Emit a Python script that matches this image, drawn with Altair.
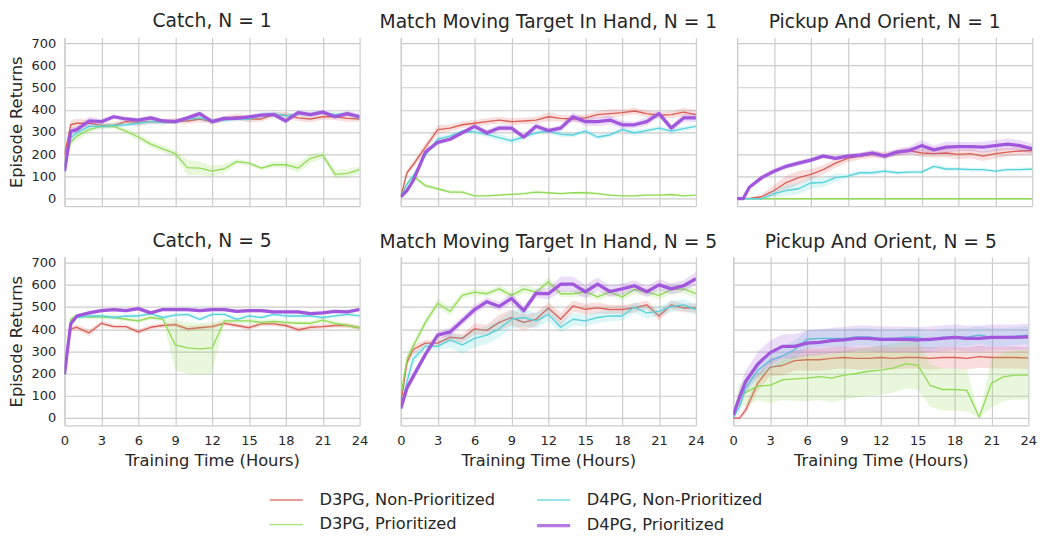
import altair as alt
import pandas as pd

HOURS = [0, 0.5, 1, 2, 3, 4, 5, 6, 7, 8, 9, 10, 11, 12, 13, 14, 15, 16, 17, 18, 19, 20, 21, 22, 23, 24]
SERIES = ["D3PG, Non-Prioritized", "D3PG, Prioritized", "D4PG, Non-Prioritized", "D4PG, Prioritized"]
COLORS = ["#db5f57", "#91db57", "#57d3db", "#a157db"]
WIDTHS = [1.4, 1.4, 1.4, 3.4]
TITLES = ["Catch, N = 1", "Match Moving Target In Hand, N = 1", "Pickup And Orient, N = 1",
          "Catch, N = 5", "Match Moving Target In Hand, N = 5", "Pickup And Orient, N = 5"]
X_TICKS = [0, 3, 6, 9, 12, 15, 18, 21, 24]
Y_TICKS = [0, 100, 200, 300, 400, 500, 600, 700]

# ---- Catch, N = 1 ----
catch1_d3np = [196, 333, 340, 340, 330, 330, 347, 344, 347, 347, 350, 350, 359, 347, 359, 369, 359, 359, 379, 376, 364, 359, 369, 369, 362, 359]
catch1_d3p = [146, 254, 282, 311, 326, 326, 304, 278, 246, 225, 203, 140, 138, 124, 135, 167, 160, 138, 153, 153, 138, 182, 196, 110, 114, 131]
catch1_d4np = [146, 275, 297, 326, 326, 330, 333, 340, 347, 344, 347, 359, 364, 350, 354, 359, 359, 376, 383, 373, 383, 379, 388, 379, 383, 364]
catch1_d4p = [124, 304, 311, 350, 347, 369, 359, 354, 364, 350, 347, 364, 383, 347, 362, 362, 369, 376, 379, 350, 388, 379, 390, 369, 383, 369]
catch1_d3np_band = [10, 20, 20, 15, 12, 12, 15, 15, 12, 12, 12, 12, 15, 12, 12, 15, 15, 12, 12, 15, 15, 15, 12, 15, 15, 12]
catch1_d3p_band = [10, 20, 20, 15, 12, 10, 12, 15, 15, 15, 15, 35, 30, 25, 20, 12, 10, 10, 12, 15, 20, 22, 15, 20, 20, 15]
catch1_d4np_band = [10, 20, 15, 12, 10, 10, 10, 10, 10, 10, 10, 10, 12, 12, 10, 10, 10, 12, 10, 10, 10, 12, 10, 10, 10, 10]
catch1_d4p_band = [10, 15, 15, 20, 12, 10, 10, 10, 12, 10, 10, 10, 12, 10, 10, 10, 10, 12, 10, 12, 10, 10, 10, 10, 12, 15]

# ---- Match Moving Target In Hand, N = 1 ----
match1_d3np = [9, 117, 153, 232, 311, 318, 333, 340, 347, 354, 347, 350, 354, 369, 362, 359, 364, 379, 383, 388, 395, 383, 376, 379, 390, 379]
match1_d3p = [9, 66, 102, 59, 45, 30, 30, 13, 13, 16, 20, 23, 30, 27, 23, 27, 27, 23, 16, 13, 13, 16, 16, 19, 13, 16]
match1_d4np = [9, 66, 102, 196, 268, 282, 304, 301, 290, 275, 261, 278, 297, 304, 290, 287, 304, 278, 287, 311, 297, 307, 318, 304, 316, 326]
match1_d4p = [9, 37, 81, 210, 254, 268, 297, 326, 297, 318, 318, 278, 326, 307, 318, 369, 347, 347, 354, 333, 333, 347, 383, 318, 364, 364]
match1_d3np_band = [5, 15, 15, 20, 20, 15, 15, 15, 15, 15, 15, 15, 15, 20, 15, 15, 15, 15, 20, 15, 15, 15, 15, 15, 20, 20]
match1_d3p_band = [5, 10, 10, 10, 8, 8, 8, 5, 5, 5, 5, 5, 8, 5, 5, 5, 8, 5, 5, 5, 5, 5, 5, 5, 5, 5]
match1_d4np_band = [5, 10, 10, 12, 12, 10, 10, 10, 12, 15, 15, 12, 10, 10, 12, 10, 10, 12, 10, 10, 15, 10, 10, 12, 10, 10]
match1_d4p_band = [5, 10, 10, 12, 12, 10, 10, 12, 15, 15, 15, 12, 15, 12, 15, 20, 18, 20, 20, 18, 15, 20, 15, 15, 20, 20]

# ---- Pickup And Orient, N = 1 ----
pick1_d3np = [1, 1, 1, 9, 37, 73, 95, 110, 131, 160, 182, 192, 200, 196, 206, 217, 206, 203, 206, 200, 203, 192, 203, 210, 215, 217]
pick1_d3p = [0, 0, 0, 0, 0, 0, 0, 0, 0, 0, 0, 0, 0, 0, 0, 0, 0, 0, 0, 0, 0, 0, 0, 0, 0, 0]
pick1_d4np = [0, 0, 0, 0, 23, 37, 45, 71, 73, 95, 102, 117, 117, 124, 117, 120, 120, 146, 134, 134, 131, 131, 124, 131, 131, 134]
pick1_d4p = [1, 1, 52, 95, 124, 146, 160, 174, 192, 182, 192, 196, 206, 192, 210, 217, 239, 220, 232, 235, 235, 232, 239, 246, 239, 225]
pick1_d3np_band = [0, 0, 0, 10, 25, 30, 30, 25, 20, 20, 18, 15, 15, 15, 15, 15, 18, 18, 20, 22, 22, 22, 22, 20, 20, 18]
pick1_d3p_band = [0, 0, 0, 0, 0, 0, 0, 0, 0, 0, 0, 0, 0, 0, 0, 0, 0, 0, 0, 0, 0, 0, 0, 0, 0, 0]
pick1_d4np_band = [0, 0, 0, 5, 15, 25, 25, 25, 20, 20, 10, 10, 10, 10, 8, 8, 8, 10, 10, 8, 8, 8, 8, 8, 8, 8]
pick1_d4p_band = [0, 0, 8, 12, 12, 12, 12, 12, 10, 10, 12, 12, 15, 12, 15, 18, 25, 20, 25, 20, 20, 25, 25, 25, 25, 22]

# ---- Catch, N = 5 ----
catch5_d3np = [197, 402, 409, 384, 427, 412, 412, 388, 409, 417, 421, 402, 407, 412, 427, 417, 407, 424, 424, 417, 398, 409, 412, 417, 417, 407]
catch5_d3p = [197, 445, 460, 455, 455, 453, 445, 438, 453, 445, 330, 316, 312, 316, 438, 438, 438, 431, 435, 431, 427, 427, 441, 427, 417, 407]
catch5_d4np = [197, 431, 453, 460, 460, 453, 460, 460, 470, 453, 464, 467, 445, 467, 467, 445, 460, 453, 467, 460, 460, 460, 453, 460, 467, 460]
catch5_d4p = [197, 424, 460, 474, 484, 489, 484, 493, 474, 489, 489, 489, 484, 489, 489, 481, 484, 484, 478, 478, 478, 470, 474, 481, 478, 489]
catch5_d3np_band = [5, 15, 12, 15, 10, 10, 10, 12, 10, 10, 10, 12, 10, 10, 10, 10, 10, 10, 10, 10, 12, 10, 10, 10, 10, 10]
catch5_d3p_band = [5, 15, 12, 10, 10, 10, 10, 10, 10, 10, 115, 115, 115, 115, 10, 12, 12, 12, 10, 10, 10, 10, 12, 10, 10, 10]
catch5_d4np_band = [5, 12, 8, 8, 8, 8, 8, 8, 8, 8, 8, 8, 10, 8, 8, 10, 8, 8, 8, 8, 8, 8, 8, 8, 8, 8]
catch5_d4p_band = [5, 10, 8, 8, 8, 8, 8, 8, 8, 8, 8, 8, 8, 8, 8, 8, 8, 8, 8, 8, 8, 8, 8, 8, 8, 8]

# ---- Match Moving Target In Hand, N = 5 ----
match5_d3np = [65, 251, 309, 338, 338, 364, 359, 402, 395, 431, 453, 431, 445, 496, 445, 505, 490, 496, 489, 489, 496, 510, 460, 510, 496, 496]
match5_d3p = [101, 266, 323, 431, 517, 481, 553, 567, 560, 582, 553, 582, 567, 614, 560, 560, 569, 546, 567, 546, 579, 567, 553, 579, 582, 560]
match5_d4np = [50, 165, 266, 323, 323, 352, 330, 359, 374, 402, 445, 453, 438, 467, 409, 445, 438, 453, 460, 460, 499, 474, 481, 503, 510, 489]
match5_d4p = [43, 136, 187, 287, 374, 388, 438, 489, 524, 503, 539, 484, 562, 560, 603, 603, 569, 603, 570, 582, 596, 569, 600, 582, 596, 628]
match5_d3np_band = [10, 25, 20, 15, 15, 20, 20, 25, 25, 35, 35, 35, 30, 25, 30, 25, 25, 25, 20, 20, 20, 20, 20, 20, 20, 20]
match5_d3p_band = [10, 25, 20, 20, 20, 20, 15, 15, 15, 15, 20, 20, 15, 20, 15, 15, 20, 15, 15, 15, 20, 15, 20, 20, 20, 20]
match5_d4np_band = [10, 25, 25, 15, 15, 35, 40, 40, 40, 40, 40, 40, 35, 30, 25, 30, 25, 25, 25, 20, 25, 25, 20, 25, 25, 25]
match5_d4p_band = [10, 20, 20, 15, 15, 20, 20, 20, 20, 20, 25, 20, 20, 25, 35, 35, 30, 30, 25, 25, 25, 25, 25, 25, 25, 30]

# ---- Pickup And Orient, N = 5 ----
pick5_d3np = [0, 0, 36, 158, 230, 237, 259, 263, 263, 269, 273, 269, 269, 273, 269, 273, 273, 269, 273, 273, 269, 277, 273, 273, 273, 270]
pick5_d3p = [14, 102, 115, 144, 148, 172, 177, 180, 187, 180, 194, 201, 211, 216, 225, 244, 239, 148, 129, 129, 125, 4, 158, 187, 194, 194]
pick5_d4np = [0, 50, 136, 216, 259, 280, 309, 355, 359, 359, 359, 366, 366, 359, 359, 364, 364, 349, 364, 364, 364, 374, 364, 366, 369, 374]
pick5_d4p = [14, 93, 165, 244, 295, 323, 323, 338, 341, 349, 352, 359, 359, 355, 355, 355, 352, 355, 359, 364, 359, 359, 364, 364, 364, 366]
pick5_d3np_band = [0, 5, 20, 35, 40, 45, 45, 50, 50, 50, 50, 50, 50, 50, 50, 50, 50, 50, 50, 50, 50, 50, 50, 50, 50, 50]
pick5_d3p_band = [10, 50, 60, 65, 80, 90, 100, 105, 105, 110, 110, 110, 110, 110, 110, 110, 110, 95, 95, 95, 95, 2, 110, 110, 110, 110]
pick5_d4np_band = [0, 20, 30, 35, 40, 40, 40, 40, 40, 40, 40, 40, 40, 40, 40, 40, 40, 40, 40, 40, 40, 40, 40, 40, 40, 40]
pick5_d4p_band = [10, 40, 50, 55, 55, 55, 55, 58, 58, 58, 58, 58, 58, 58, 58, 58, 58, 58, 58, 58, 58, 58, 58, 58, 58, 60]

PANELS = [
    (TITLES[0], [catch1_d3np, catch1_d3p, catch1_d4np, catch1_d4p],
     [catch1_d3np_band, catch1_d3p_band, catch1_d4np_band, catch1_d4p_band]),
    (TITLES[1], [match1_d3np, match1_d3p, match1_d4np, match1_d4p],
     [match1_d3np_band, match1_d3p_band, match1_d4np_band, match1_d4p_band]),
    (TITLES[2], [pick1_d3np, pick1_d3p, pick1_d4np, pick1_d4p],
     [pick1_d3np_band, pick1_d3p_band, pick1_d4np_band, pick1_d4p_band]),
    (TITLES[3], [catch5_d3np, catch5_d3p, catch5_d4np, catch5_d4p],
     [catch5_d3np_band, catch5_d3p_band, catch5_d4np_band, catch5_d4p_band]),
    (TITLES[4], [match5_d3np, match5_d3p, match5_d4np, match5_d4p],
     [match5_d3np_band, match5_d3p_band, match5_d4np_band, match5_d4p_band]),
    (TITLES[5], [pick5_d3np, pick5_d3p, pick5_d4np, pick5_d4p],
     [pick5_d3np_band, pick5_d3p_band, pick5_d4np_band, pick5_d4p_band]),
]

# legend laid out in 2 columns: D3PG entries in column 1, D4PG entries in column 2
LEGEND_ORDER = SERIES
LEGEND_COLORS = COLORS
LEGEND_WIDTHS = WIDTHS

FONT = "DejaVu Sans"
TXT = "#262626"
GRID = "#cccccc"

legend = alt.Legend(
    title=None, orient="none", legendX=218, legendY=470, columns=2,
    symbolType="M-1.5,0L1.5,0", symbolSize=529, symbolOpacity=0.8,
    labelFontSize=17, labelFont=FONT, labelColor=TXT, labelOffset=21, labelLimit=400,
    columnPadding=36, rowPadding=5,
)
color_scale = alt.Scale(domain=LEGEND_ORDER, range=LEGEND_COLORS)
width_scale = alt.Scale(type="ordinal", domain=LEGEND_ORDER, range=LEGEND_WIDTHS)
y_scale = alt.Scale(domain=[-33, 726], nice=False, zero=False)
x_scale = alt.Scale(domain=[0, 24], nice=False)


def make_panel(idx):
    title, means, bands = PANELS[idx]
    rows = []
    for s, name in enumerate(SERIES):
        for i, t in enumerate(HOURS):
            v = means[s][i]
            b = bands[s][i]
            rows.append({"series": name, "t": t, "y": v, "lo": v - b, "hi": v + b})
    df = pd.DataFrame(rows)
    bottom = idx >= 3
    left = idx % 3 == 0
    xaxis = alt.Axis(values=X_TICKS, labels=bottom, title="Training Time (Hours)" if bottom else None,
                     ticks=False, grid=True, format="d", labelFlush=False)
    yaxis = alt.Axis(values=Y_TICKS, labels=left, title="Episode Returns" if left else None,
                     ticks=False, grid=True, labelFlush=False)
    layers = []
    for s, name in enumerate(SERIES):
        base = alt.Chart(df).transform_filter(alt.FieldEqualPredicate(field="series", equal=name))
        band = base.mark_area(color=COLORS[s], opacity=0.2, clip=True).encode(
            x=alt.X("t:Q", scale=x_scale, axis=xaxis),
            y=alt.Y("lo:Q", scale=y_scale, axis=yaxis),
            y2="hi:Q",
        )
        line = base.mark_line(clip=True, strokeJoin="round").encode(
            x=alt.X("t:Q", scale=x_scale, axis=xaxis),
            y=alt.Y("y:Q", scale=y_scale, axis=yaxis),
            color=alt.Color("series:N", scale=color_scale, legend=legend),
            strokeWidth=alt.StrokeWidth("series:N", scale=width_scale, legend=legend),
        )
        layers += [band, line]
    return alt.layer(*layers).properties(width=308, height=176, title=title)


PAD = {"left": 0, "top": -8, "right": 0, "bottom": 0}

# bottom-row cells include their overhanging tick labels in their bounds,
# so their spacing is reduced to keep the same gap between plot areas as the top row
row1 = alt.hconcat(make_panel(0), make_panel(1), make_panel(2), spacing=20)
row2 = alt.hconcat(make_panel(3), make_panel(4), make_panel(5), spacing=11)
chart = alt.vconcat(row1, row2, spacing=26).properties(
    padding=PAD,
    autosize=alt.AutoSizeParams(type="pad"),
)

chart = chart.configure(font=FONT).configure_view(
    strokeWidth=0
).configure_axis(
    gridColor=GRID, gridWidth=1.25, domainColor=GRID, domainWidth=1.25,
    labelFontSize=13.6, labelColor=TXT, labelFont=FONT, labelPadding=9,
    titleFontSize=17, titleColor=TXT, titleFont=FONT, titleFontWeight="normal", titlePadding=6,
).configure_title(
    fontSize=19.5, fontWeight="normal", color=TXT, font=FONT, offset=5, anchor="middle"
)

chart.save("out.html", embed_options={"renderer": "svg", "actions": False})
